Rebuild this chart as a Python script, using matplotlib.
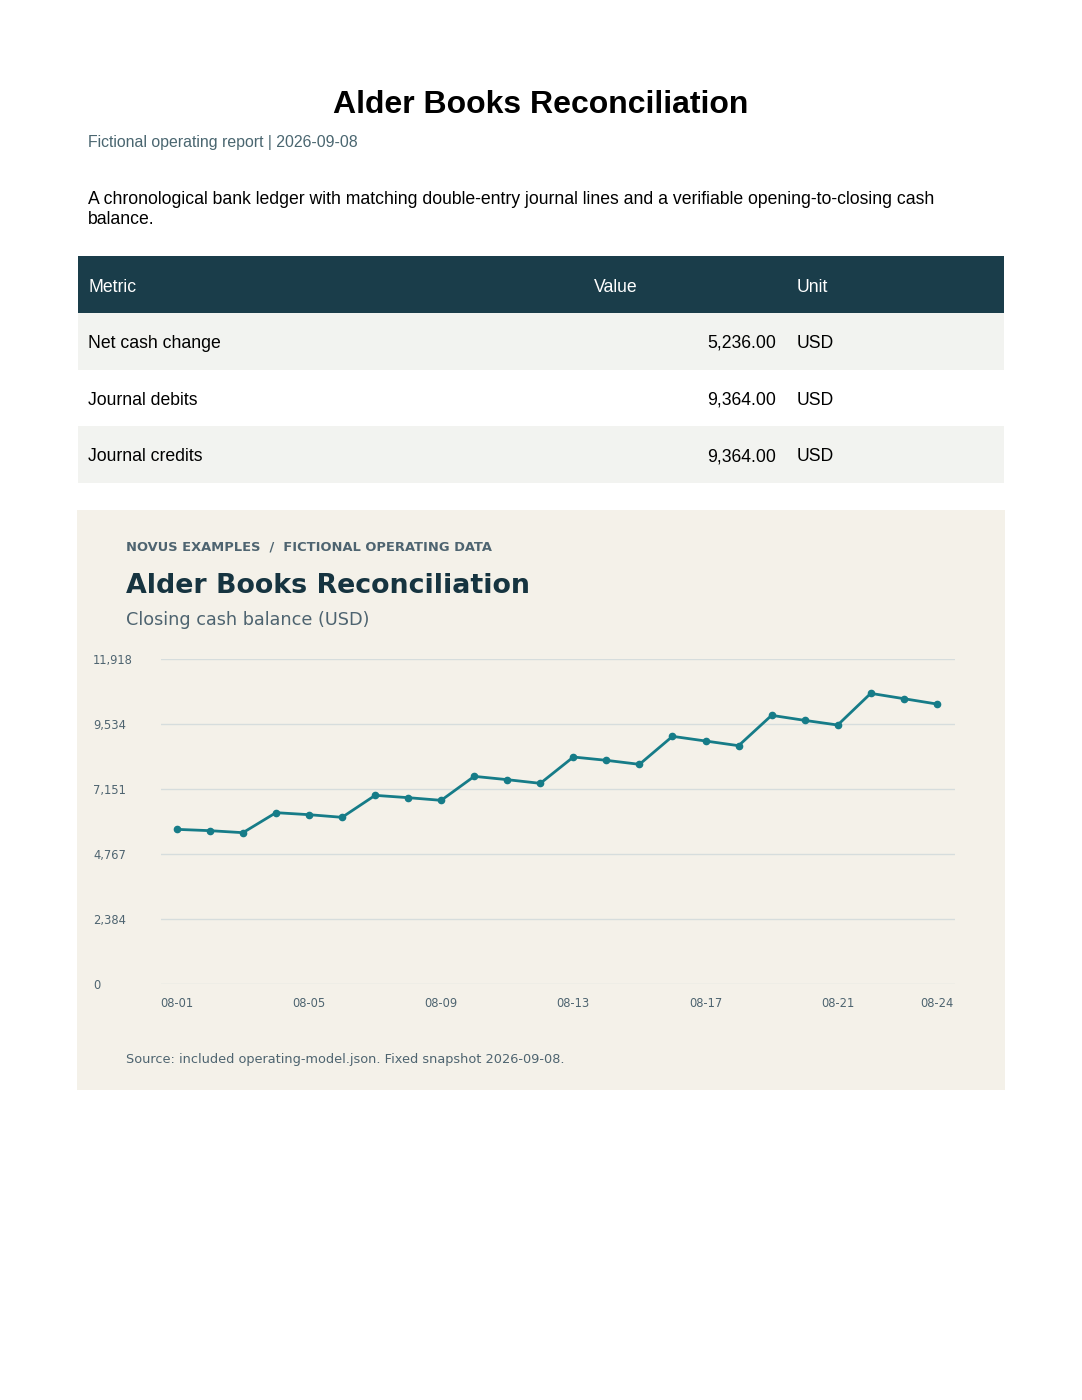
import numpy as np
import matplotlib
matplotlib.use("Agg")
import matplotlib.pyplot as plt
from matplotlib.patches import Rectangle

################     Data    ####################

dates = ["08-%02d" % d for d in range(1, 25)]
closing = [5671, 5623, 5549, 6283, 6209, 6112, 6918, 6833, 6735, 7615, 7493, 7358,
           8324, 8202, 8055, 9082, 8911, 8739, 9852, 9668, 9497, 10658, 10463, 10267]
tick_dates = ["08-01", "08-05", "08-09", "08-13", "08-17", "08-21", "08-24"]
y_max = 11918

metrics = ["Net cash change", "Journal debits", "Journal credits"]
values = [5236.00, 9364.00, 9364.00]
units = ["USD", "USD", "USD"]

################     Layout helpers    ####################

W, H = 1082, 1400
fig = plt.figure(figsize=(W / 100, H / 100), dpi=100)
fig.patch.set_facecolor("white")

def fx(x):
    return x / W

def fy(y):
    return 1 - y / H

def txt(x, y, s, **kw):
    kw.setdefault("va", "center")
    fig.text(fx(x), fy(y), s, **kw)

def box(x0, y0, x1, y1, color):
    fig.patches.append(Rectangle((fx(x0), fy(y1)), fx(x1) - fx(x0), fy(y0) - fy(y1),
                                 transform=fig.transFigure, facecolor=color,
                                 edgecolor="none", zorder=-10))

arial = "Liberation Sans"
dejavu = "DejaVu Sans"

################     Report header    ####################

txt(541, 105, "Alder Books Reconciliation", ha="center", fontsize=23, fontweight="bold",
    family=arial, color="black")
txt(88, 142, "Fictional operating report | 2026-09-08", fontsize=11.4, family=arial,
    color="#4a6670")
txt(88, 199, "A chronological bank ledger with matching double-entry journal lines and a verifiable opening-to-closing cash",
    fontsize=12.7, family=arial, color="black")
txt(88, 220, "balance.", fontsize=12.7, family=arial, color="black")

# table
box(78, 256, 1004, 313, "#1a3d4a")
txt(88, 287, "Metric", fontsize=12.7, family=arial, color="white")
txt(594, 287, "Value", fontsize=12.7, family=arial, color="white")
txt(797, 287, "Unit", fontsize=12.7, family=arial, color="white")
row_top = 313
row_h = 56.7
for i, (m, v, u) in enumerate(zip(metrics, values, units)):
    y0 = row_top + i * row_h
    if i % 2 == 0:
        box(78, y0, 1004, y0 + row_h, "#f2f3f0")
    yc = y0 + row_h / 2 + 2
    txt(88, yc, m, fontsize=12.7, family=arial, color="black")
    txt(776, yc, f"{v:,.2f}", ha="right", fontsize=12.7, family=arial, color="black")
    txt(797, yc, u, fontsize=12.7, family=arial, color="black")

################     Chart panel    ####################

panel_bg = "#f4f1e9"
box(77, 510, 1005, 1090, panel_bg)
txt(126, 547, "NOVUS EXAMPLES  /  FICTIONAL OPERATING DATA", fontsize=9.4,
    fontweight="bold", family=dejavu, color="#4e6470")
txt(126, 586, "Alder Books Reconciliation", fontsize=19.4, fontweight="bold",
    family=dejavu, color="#163440")
txt(126, 620, "Closing cash balance (USD)", fontsize=12.7, family=dejavu, color="#4e6470")
txt(126, 1059, "Source: included operating-model.json. Fixed snapshot 2026-09-08.",
    fontsize=9.3, family=dejavu, color="#4e6470")

ax = fig.add_axes([fx(161), fy(984), fx(955) - fx(161), fy(659) - fy(984)])
ax.set_facecolor(panel_bg)
x = np.arange(len(dates))
ax.plot(x, closing, color="#167c88", linewidth=2, marker="o", markersize=4.5, zorder=3)

yt = np.linspace(0, y_max, 6)
ax.set_yticks(yt)
ax.set_yticklabels([f"{v:,.0f}" for v in yt], family=dejavu, fontsize=8.3, color="#4e6470")
for lab in ax.get_yticklabels():
    lab.set_horizontalalignment("left")
ax.tick_params(axis="y", length=0, pad=49)
ax.set_xticks([dates.index(d) for d in tick_dates])
ax.set_xticklabels(tick_dates, family=dejavu, fontsize=8.3, color="#4e6470")
ax.tick_params(axis="x", length=0, pad=9.5)
ax.set_xlim(-0.48, 23.55)
ax.set_ylim(0, y_max)
ax.grid(axis="y", color="#d6dddd", linewidth=1)
ax.set_axisbelow(True)
for s in ax.spines.values():
    s.set_visible(False)

plt.savefig("out.png", dpi=100, facecolor="white")
